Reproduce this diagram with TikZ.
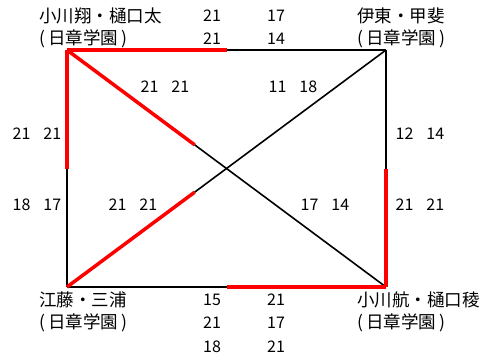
\documentclass[tikz,border=0pt]{standalone}
\usepackage{fontspec}
\setmainfont{Noto Sans CJK JP}
\usetikzlibrary{calc}
\newcommand{\club}{(\kern3pt 日章学園\kern3pt)}
\begin{document}
\begin{tikzpicture}[x=1pt,y=-1pt]

      \useasboundingbox (0,0) rectangle (483,360);

      % corners and split points
      \coordinate (tl) at (67,50);
      \coordinate (tr) at (386,50);
      \coordinate (bl) at (67,287);
      \coordinate (br) at (386,287);
      \coordinate (tm) at ($(tl)!0.5!(tr)$);
      \coordinate (bm) at ($(bl)!0.5!(br)$);
      \coordinate (lm) at ($(tl)!0.5!(bl)$);
      \coordinate (rm) at ($(tr)!0.5!(br)$);
      \coordinate (dtl) at ($(tl)!0.4!(br)$);
      \coordinate (dbl) at ($(bl)!0.4!(tr)$);

      \begin{scope}[every node/.style={anchor=west,inner sep=0pt,font=\fontsize{17.5}{20}\selectfont}]
        \node (tlname) at (39,16)  {小川翔・樋口太};
        \node (tlclub) at (39,39)  {\club};
        \node (trname) at (357,16) {伊東・甲斐};
        \node (trclub) at (357,39) {\club};
        \node (blname) at (39,300) {江藤・三浦};
        \node (blclub) at (39,323) {\club};
        \node (brname) at (357,300) {小川航・樋口稜};
        \node (brclub) at (357,323) {\club};
      \end{scope}

      \begin{scope}[every node/.style={inner sep=0pt,font=\fontsize{16}{18}\selectfont}]
        \node (t1) at (212,16) {21};
        \node (t2) at (276,16) {17};
        \node (t3) at (212,39) {21};
        \node (t4) at (276,39) {14};
        \node (b1) at (212,300) {15};
        \node (b2) at (276,300) {21};
        \node (b3) at (212,323) {21};
        \node (b4) at (276,323) {17};
        \node (b5) at (212,347) {18};
        \node (b6) at (276,347) {21};
        \node (l1) at (37,134)  {21\hspace{13pt}21};
        \node (l2) at (37,205)  {18\hspace{13pt}17};
        \node (r1) at (420,134) {12\hspace{13pt}14};
        \node (r2) at (420,205) {21\hspace{13pt}21};
        \node (d1) at (165,87)  {21\hspace{13pt}21};
        \node (d2) at (293,87)  {11\hspace{13pt}18};
        \node (d3) at (133,205) {21\hspace{13pt}21};
        \node (d4) at (325,205) {17\hspace{13pt}14};
      \end{scope}

      \begin{scope}[every edge/.style={draw,line width=1.6pt}]
        \path (tm)  edge (tr);
        \path (lm)  edge (bl);
        \path (tr)  edge (rm);
        \path (bl)  edge (bm);
        \path (dtl) edge (br);
        \path (dbl) edge (tr);
      \end{scope}

      \begin{scope}[every edge/.style={draw,red,line width=3.5pt}]
        \path (tl)  edge (tm);
        \path (tl)  edge (lm);
        \path (rm)  edge (br);
        \path (bm)  edge (br);
        \path (tl)  edge (dtl);
        \path (bl)  edge (dbl);
      \end{scope}

    \end{tikzpicture}
\end{document}
